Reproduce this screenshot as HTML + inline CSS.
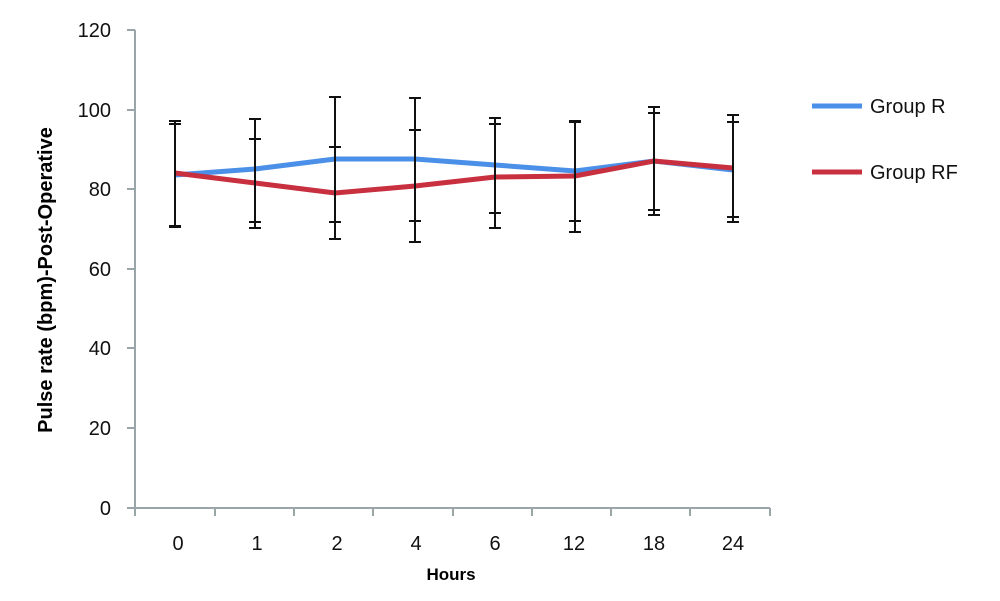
<!DOCTYPE html>
<html><head><style>body{margin:0;background:#fff}</style></head><body>
<svg width="1000" height="596" xmlns="http://www.w3.org/2000/svg" font-family="Liberation Sans, sans-serif">
<rect width="1000" height="596" fill="#fff"/>
<g stroke="#9aa5a8" stroke-width="2">
<line x1="135" y1="30" x2="135" y2="509"/>
<line x1="134" y1="508" x2="770" y2="508"/>
<line x1="127" y1="30" x2="135" y2="30"/><line x1="127" y1="110" x2="135" y2="110"/><line x1="127" y1="189" x2="135" y2="189"/><line x1="127" y1="269" x2="135" y2="269"/><line x1="127" y1="348" x2="135" y2="348"/><line x1="127" y1="428" x2="135" y2="428"/><line x1="127" y1="508" x2="135" y2="508"/>
<line x1="135" y1="508" x2="135" y2="516"/><line x1="215" y1="508" x2="215" y2="516"/><line x1="294" y1="508" x2="294" y2="516"/><line x1="373" y1="508" x2="373" y2="516"/><line x1="453" y1="508" x2="453" y2="516"/><line x1="532" y1="508" x2="532" y2="516"/><line x1="611" y1="508" x2="611" y2="516"/><line x1="690" y1="508" x2="690" y2="516"/><line x1="770" y1="508" x2="770" y2="516"/>
</g>
<g font-size="20" fill="#111" text-anchor="end">
<text x="111" y="37">120</text><text x="111" y="117">100</text><text x="111" y="196">80</text><text x="111" y="276">60</text><text x="111" y="355">40</text><text x="111" y="435">20</text><text x="111" y="515">0</text>
</g>
<g font-size="20" fill="#111" text-anchor="middle">
<text x="178" y="550">0</text><text x="257" y="550">1</text><text x="337" y="550">2</text><text x="416" y="550">4</text><text x="495" y="550">6</text><text x="574" y="550">12</text><text x="654" y="550">18</text><text x="733" y="550">24</text>
</g>
<text x="451" y="580" font-size="17" font-weight="bold" text-anchor="middle">Hours</text>
<text transform="translate(52,280) rotate(-90)" font-size="20" font-weight="bold" text-anchor="middle">Pulse rate (bpm)-Post-Operative</text>
<polyline fill="none" stroke="#4a8fe8" stroke-width="5" points="175,175 255,169 335,159 415,159 495,165 575,171 654,161 733,170"/>
<polyline fill="none" stroke="#c8303f" stroke-width="5" points="175,173 255,183 335,193 415,186 495,177 575,176 654,161 733,168"/>
<g stroke="#111" stroke-width="2">
<path d="M175,121V227M169,121h12M169,124h12M169,226h12M169,227h12"/>
<path d="M255,119V228M249,119h12M249,139h12M249,222h12M249,228h12"/>
<path d="M335,97V239M329,97h12M329,147h12M329,222h12M329,239h12"/>
<path d="M415,98V242M409,98h12M409,130h12M409,221h12M409,242h12"/>
<path d="M495,118V228M489,118h12M489,124h12M489,213h12M489,228h12"/>
<path d="M575,121V232M569,121h12M569,122h12M569,221h12M569,232h12"/>
<path d="M654,107V215M648,107h12M648,113h12M648,210h12M648,215h12"/>
<path d="M733,115V222M727,115h12M727,122h12M727,217h12M727,222h12"/>
</g>
<line x1="812" y1="106" x2="862" y2="106" stroke="#4a8fe8" stroke-width="5"/>
<text x="870" y="113" font-size="20" fill="#111">Group R</text>
<line x1="812" y1="172" x2="862" y2="172" stroke="#c8303f" stroke-width="5"/>
<text x="870" y="179" font-size="20" fill="#111">Group RF</text>
</svg>
</body></html>
